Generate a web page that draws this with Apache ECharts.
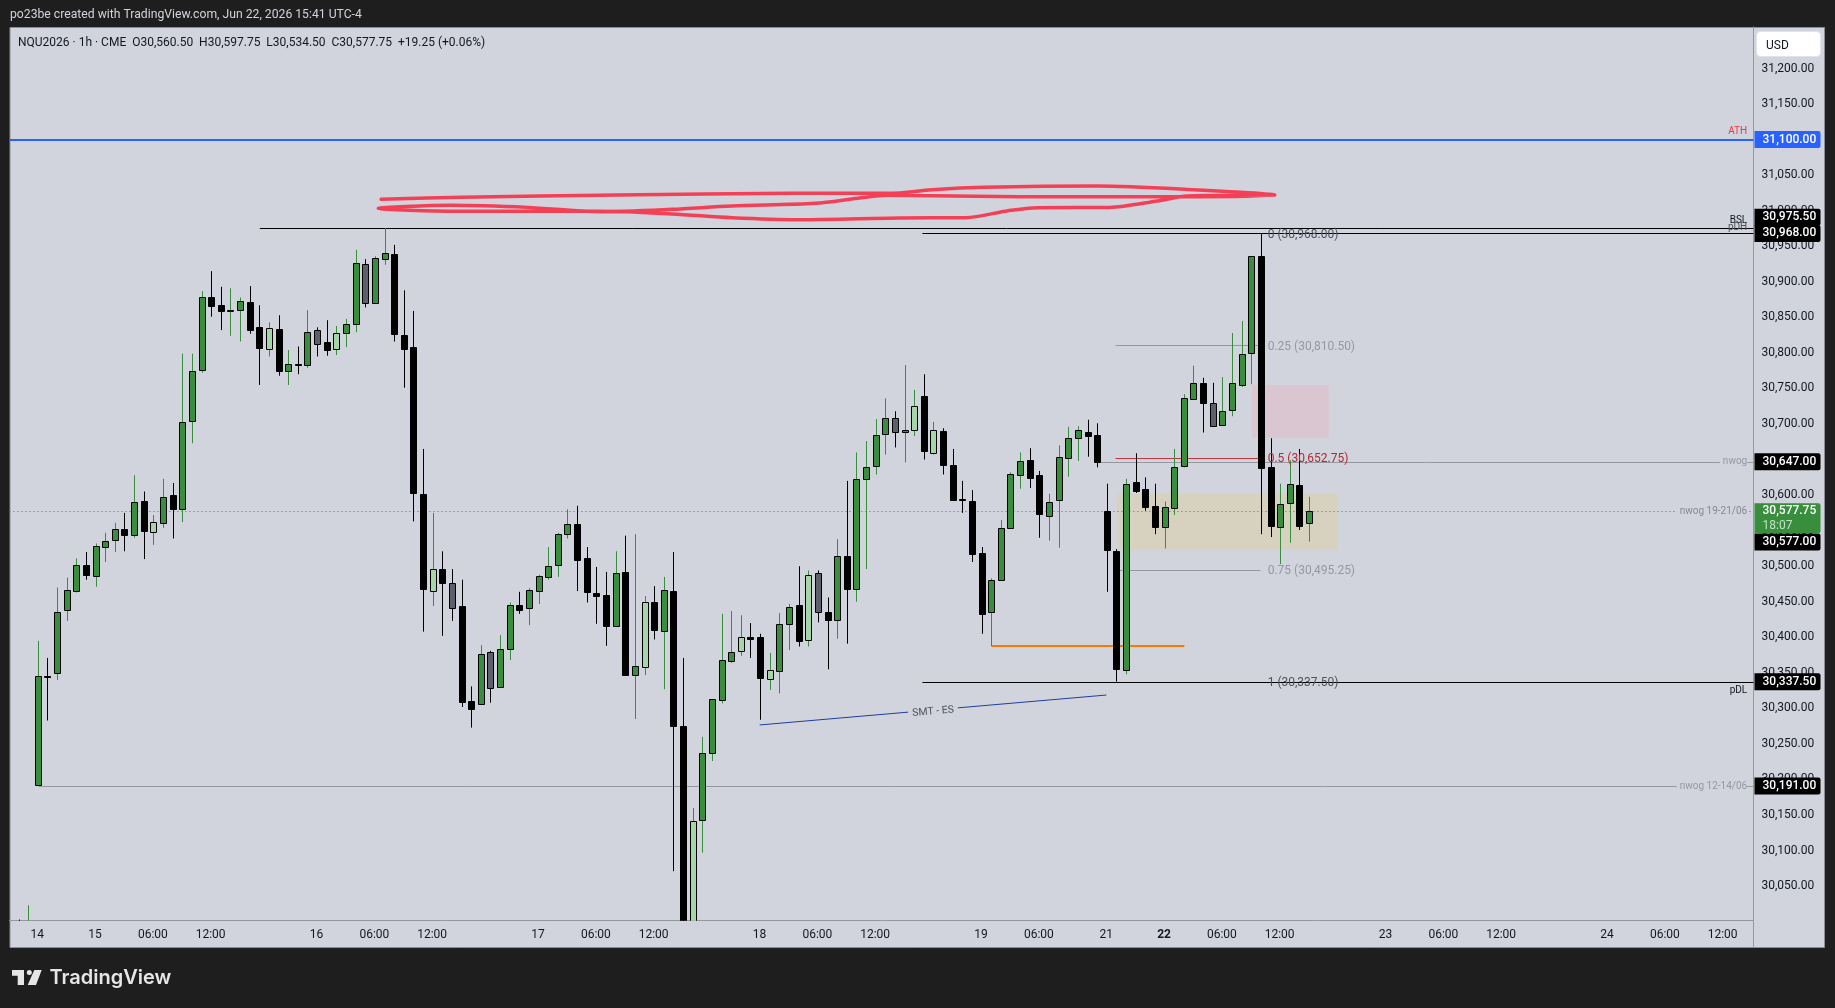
<!DOCTYPE html>
<html style="height: 100%">
<head>
<meta charset="utf-8">
<title>NQU2026 1h</title>
<style>
  body { height: 100%; margin: 0; background: #1e1e1e; }
  #container { width: 1835px; height: 1008px; }
</style>
</head>
<body>
<div id="container"></div>
<script src="https://cdn.jsdelivr.net/npm/echarts@6/dist/echarts.min.js"></script>
<script>
// hourly bars, first entry is bar -2 (the two bars that poke in from below at the far left)
var firstBar = -2;
var opens = [29985,29975,30191,30345.5,30349,30438,30465,30501,30487,30528,
  30536,30552,30545,30592,30548,30561,30600,30581,30703,30775,
  30878,30867,30858,30860,30871,30837,30806,30833,30774,30784,
  30784,30832,30815,30806,30828,30840,30925,30870,30932,30939,
  30825,30808,30601,30465,30496,30477,30444,30310,30306,30379,
  30330,30384,30446,30440,30465,30485,30501,30545,30560,30511,
  30462,30459,30416,30492,30346,30357,30449,30408,30465,30275,
  29985,30143,30237,30312,30368,30381,30401,30400,30341,30353,
  30419,30445,30397,30490,30435,30424,30514,30468,30623,30640,
  30685,30708,30689,30692,30739,30660,30690,30643,30594.25,30592,
  30519,30435,30481,30553,30629,30650,30628,30571,30592,30653,
  30680,30689,30684,30577,30521,30354,30619,30608,30584,30555,
  30583,30640,30736,30758,30730,30699,30719,30755,30800,30936,
  30639,30556,30588,30614,30560.5];
var highs = [30003,30023,30395,30371,30470,30484,30511,30520,30532,30547,
  30561,30575,30628,30605,30572,30623,30617,30799,30799,30887,
  30915,30893,30891,30878,30894,30867,30843,30853,30804,30809,
  30860,30836,30846,30838,30848,30945,30932,30936,30975.5,30952,
  30888,30859,30665,30575,30521,30496,30481,30331,30389,30381,
  30403,30449,30464,30469,30488,30527,30547,30580,30585,30527,
  30499,30492,30521,30543,30545,30458,30472,30485,30520,30371,
  30160,30260,30313,30433,30437,30431,30420,30405,30378,30434,
  30447,30500,30494,30494,30456,30538,30620,30660,30676,30707,
  30736,30718,30783,30748,30770,30703,30694,30665,30620,30607,
  30527,30483,30565,30632,30660,30666,30634,30602,30670,30696,
  30697,30706,30701,30616,30524,30623,30659,30625,30616,30591,
  30665,30742,30782,30765,30758,30766,30828,30845,30936,30968,
  30680,30616,30649,30665,30597.75];
var lows = [29960,29965,30191,30283,30340,30423,30463,30481,30471,30506,
  30520,30521,30540,30510,30530,30554,30539,30562,30673,30772,
  30851,30832,30824,30816,30827,30755,30795,30768,30755,30770,
  30779,30795,30796,30797,30808,30829,30864,30870,30924,30816,
  30751,30563,30408,30444,30402,30423,30302,30273,30306,30308,
  30330,30368,30433,30417,30447,30481,30485,30539,30465,30449,
  30419,30388,30416,30347,30285,30347,30397,30327,30071,29960,
  29975,30097,30226,30307,30364,30374,30371,30284,30326,30321,
  30382,30387,30387,30421,30355,30398,30391,30450,30496,30629,
  30657,30667,30646,30683,30650,30657,30629,30592,30575,30506,
  30405,30387.5,30479,30553,30609,30610,30540,30536,30526,30626,
  30648,30654,30639,30464,30337.5,30348,30603,30578,30545,30525,
  30572,30639,30734,30688,30698,30699,30711,30752,30756,30545,
  30541,30503,30533,30551,30534.5];
var closes = [29970,29990,30345,30345,30435,30466,30501,30487,30529,30536,
  30552,30544,30591,30550,30562,30598,30581,30703,30774,30878,
  30866,30858,30860,30873,30831,30807,30835,30774,30784,30782,
  30830,30813,30804,30828,30840,30926,30870,30933,30940,30826,
  30806,30602,30467,30496,30477,30442,30309,30299,30377,30328,
  30383,30446,30439,30466,30486,30500,30545,30559,30509,30463,
  30458,30415,30491,30347,30359,30449,30410,30466,30275,29985,
  30141,30237,30313,30368,30380,30400,30398,30342,30354,30419,
  30443,30395,30488,30435,30424,30514,30468,30623,30640,30684,
  30708,30689,30692,30726,30661,30692,30642,30594,30593.75,30518,
  30433,30480,30554,30629,30648,30624,30573,30591,30653,30681,
  30691,30684,30646,30522,30355,30616,30606,30582,30554,30583,
  30640,30736,30758,30730,30698,30719,30757,30799,30936,30638,
  30556,30588,30615,30556,30577.75];
// the bars painted pale green / slate by the chart's indicator
var paleBars = [12,24,31,41,63,68,73,76,80,91,93];
var slateBars = [29,34,43,47,81,89,122];

var timeBars = [0,6,12,18,29,35,41,52,58,64,75,81,87,98,104,111,117,123,129,140,146,152,163,169,175];
var timeLabels = ['14','15','06:00','12:00','16','06:00','12:00','17','06:00','12:00','18','06:00','12:00','19','06:00','21','22','06:00','12:00','23','06:00','12:00','24','06:00','12:00'];
var priceTicks = [30050,30100,30150,30200,30250,30300,30350,30400,30450,30500,30550,30600,30650,30700,30750,30800,30850,30900,30950,31000,31050,31100,31150,31200];

var lastPrice = 30577.75;
var ath = 31100;
var pdh = 30975.5;
var pdl = 30337.5;
var nwog = 30647;
var nwog1921 = 30577;
var nwog1214 = 30191;
var tagPrices = [31100,30975.5,30968,30647,30577,30337.5,30191];
var fibLevels = [30968,30810.5,30652.75,30495.25,30337.5];
var fibRatios = ['0','0.25','0.5','0.75','1'];
var orangeLow = 30387.5;
var smtLine = [[74.9,30276.7],[110.9,30318.8]];
var redZone = [126,134,30754.8,30680.7];
var tanZone = [112,134.9,30601.5,30522.8];
// freehand red scribble above the highs, as [bar, price]
var scribble = [[35.6,31016],[44,31019],[60.2,31022],[78.2,31024.4],[88.2,31024.4],[93.2,31030],[98.2,31032.9],[110,31034.7],[119.3,31030],[128.4,31022],
  [120.6,31019.7],[101.9,31019.7],[88.2,31021.6],[85.1,31017.4],[80.7,31010.4],[72,31006.6],[65.8,31001.9],[58.3,30998.6],[50.8,31004.7],[42.8,31007.6],[35.3,31003.3],
  [43.4,30999.1],[58.3,30999.1],[65.8,30995.4],[72,30990.2],[78.9,30987.4],[89.5,30989.8],[96.3,30990.2],[100.7,31000],[103.8,31004.3],[111.2,31004.7],[116.2,31013.7],[119.3,31020.7],[128.4,31022]];

var panel = '#d1d4dc';
var axisGrey = '#9598a1';
var ink = '#131722';
var uiFont = 'Roboto';
var xMin = -3, xMax = 178.1;

var dom = document.getElementById('container');
var myChart = echarts.init(dom);

function money(v) {
  return v.toLocaleString('en-US', { minimumFractionDigits: 2, maximumFractionDigits: 2 });
}

var barRows = opens.map(function (o, n) {
  return [n + firstBar, o, closes[n], lows[n], highs[n]];
});

function renderCandle(params, api) {
  var bar = api.value(0), o = api.value(1), c = api.value(2);
  var cx = Math.floor(api.coord([bar, o])[0]) + 0.5;
  var up = c >= o;
  var fill = up ? '#388e3c' : '#000000';
  if (paleBars.indexOf(bar) >= 0) fill = '#a5d6a7';
  if (slateBars.indexOf(bar) >= 0) fill = '#5d606b';
  var wick = up ? '#388e3c' : '#000000';
  var top = api.coord([bar, Math.max(o, c)])[1];
  var bottom = api.coord([bar, Math.min(o, c)])[1];
  var hi = api.coord([bar, api.value(4)])[1];
  var lo = api.coord([bar, api.value(3)])[1];
  return {
    type: 'group',
    children: [
      { type: 'line', shape: { x1: cx, y1: hi, x2: cx, y2: lo }, style: { stroke: wick, lineWidth: 1 } },
      { type: 'rect', shape: { x: cx - 3, y: Math.round(top) + 0.5, width: 6, height: Math.max(Math.round(bottom - top), 1) },
        style: { fill: fill, stroke: '#000000', lineWidth: 1 } }
    ]
  };
}

function renderZone(params, api) {
  var a = api.coord([api.value(0), api.value(2)]);
  var b = api.coord([api.value(1), api.value(3)]);
  return { type: 'rect', shape: { x: a[0], y: a[1], width: b[0] - a[0], height: b[1] - a[1] },
    style: { fill: params.dataIndex === 0 ? '#d9c6d1' : '#d7d2c0' } };
}

// horizontal level snapped to the pixel grid so it stays crisp, row is [fromBar, toBar, price]
function level(fromBar, toBar, price, color, width, dash, z) {
  return {
    type: 'custom', data: [[fromBar, toBar, price]], encode: { x: [0, 1], y: 2 },
    z: z || 2, silent: true, animation: false, clip: true,
    renderItem: function (params, api) {
      var a = api.coord([api.value(0), api.value(2)]);
      var b = api.coord([api.value(1), api.value(2)]);
      var y = width === 1 ? Math.round(a[1]) + 0.5 : Math.round(a[1]);
      return { type: 'line', shape: { x1: a[0], y1: y, x2: b[0], y2: y },
        style: { stroke: color, lineWidth: width, lineDash: dash || null } };
    }
  };
}

function note(bar, price, text, color, place, dy, extra) {
  var label = {
    show: true, position: place, distance: 0, offset: [0, dy], formatter: text, color: color,
    fontFamily: uiFont, fontSize: 12
  };
  for (var k in extra) label[k] = extra[k];
  return { value: [bar, price], label: label };
}

var noteRows = [
  note(177.5, ath, 'ATH', '#f23645', 'left', -8, { fontSize: 10 }),
  note(177.5, pdh, 'BSL', ink, 'left', -8, { fontSize: 10 }),
  note(177.5, pdh, 'pDH', '#50535e', 'left', -1, { fontSize: 10 }),
  note(177.5, pdl, 'pDL', ink, 'left', 9, { fontSize: 10 }),
  note(177.5, nwog, 'nwog', axisGrey, 'left', 0, { fontSize: 10, backgroundColor: panel, padding: [0, 0, 0, 3] }),
  note(177.5, nwog1921, 'nwog 19-21/06', '#858892', 'left', 0.5, { fontSize: 10, backgroundColor: panel, padding: [0, 0, 0, 3] }),
  note(177.5, nwog1214, 'nwog 12-14/06', axisGrey, 'left', 0.5, { fontSize: 10, backgroundColor: panel, padding: [0, 0, 0, 3] }),
  note(92.9, 30296.8, 'SMT - ES', '#50535e', 'inside', 1, { fontSize: 10.5, rotate: 5, backgroundColor: panel, padding: [0, 4] })
];
var fibColors = ['#50535e', axisGrey, '#b22833', axisGrey, '#50535e'];
fibLevels.forEach(function (lv, k) {
  noteRows.push(note(127.6, lv, fibRatios[k] + ' (' + money(lv) + ')', fibColors[k], 'right', 1.5, {}));
});

// right-hand price tags; offsets follow how the tags stack in the reference
var tagColors = ['#2962ff', '#000000', '#000000', '#000000', '#000000', '#000000', '#000000'];
var tagShift = [0, -10.8, 0, 0, 30.6, 0, 0];
var tagRows = tagPrices.map(function (p, k) {
  return {
    value: [xMax, p],
    label: {
      show: true, position: 'right', distance: 0.5, offset: [0, tagShift[k]], formatter: money(p),
      color: '#ffffff', fontFamily: uiFont, fontSize: 12, fontWeight: 500,
      backgroundColor: tagColors[k], width: 58, height: 17, lineHeight: 17, padding: [0, 0, 0, 8],
      borderRadius: [0, 2, 2, 0]
    }
  };
});
tagRows.push({
  value: [xMax, lastPrice],
  label: {
    show: true, position: 'right', distance: 0.5, offset: [0, 7.4],
    formatter: '{p|' + money(lastPrice) + '}\n{t|18:07}',
    fontFamily: uiFont, fontSize: 12, backgroundColor: '#388e3c', width: 58, height: 30, padding: [0, 0, 0, 8],
    borderRadius: [0, 2, 2, 0],
    rich: { p: { color: '#ffffff', fontFamily: uiFont, fontSize: 12, fontWeight: 500, lineHeight: 15 },
            t: { color: '#c3e0c5', fontFamily: uiFont, fontSize: 12, lineHeight: 15 } }
  }
});

var fibStart = 111.85, fibEnd = 126.9, outerStart = 91.8;
var option = {
  animation: false,
  backgroundColor: '#1e1e1e',
  textStyle: { fontFamily: uiFont },
  grid: { left: 9.41, right: 81.5, top: 27, bottom: 87.3, show: false },
  xAxis: {
    type: 'value', min: xMin, max: xMax, splitLine: { show: false },
    axisLine: { show: true, onZero: false, lineStyle: { color: axisGrey, width: 1 } },
    axisTick: { show: false },
    axisLabel: {
      customValues: timeBars, color: ink, fontFamily: uiFont, fontSize: 12, margin: 8, hideOverlap: false,
      padding: [0, 2, 0, 0],
      formatter: function (v) {
        var s = timeLabels[timeBars.indexOf(v)];
        return s === '22' ? '{b|22}' : s;
      },
      rich: { b: { fontFamily: uiFont, fontSize: 12, fontWeight: 'bold', color: ink } }
    }
  },
  yAxis: {
    type: 'value', position: 'right', min: 30001.4, max: 31258.4, scale: true, splitLine: { show: false },
    axisLine: { show: true, onZero: false, lineStyle: { color: axisGrey, width: 1 } },
    axisTick: { show: false },
    axisLabel: {
      customValues: priceTicks, color: ink, fontFamily: uiFont, fontSize: 12, margin: 8, hideOverlap: false,
      formatter: function (v) { return money(v); }
    }
  },
  series: [
    { type: 'custom', renderItem: renderZone, data: [redZone, tanZone], encode: { x: [0, 1], y: [2, 3] }, z: 1, silent: true, animation: false, clip: true },
    level(110, xMax, nwog, axisGrey, 1),
    level(0, xMax, nwog1214, axisGrey, 1),
    level(xMin, xMax, ath, '#2962ff', 2),
    level(23, xMax, pdh, '#000000', 1),
    level(outerStart, xMax, fibLevels[0], '#000000', 1),
    level(outerStart, xMax, fibLevels[4], '#000000', 1),
    level(fibStart, fibEnd, fibLevels[1], axisGrey, 1),
    level(fibStart, fibEnd, fibLevels[2], '#c2333b', 1),
    level(fibStart, fibEnd, fibLevels[3], axisGrey, 1),
    level(99, 119, orangeLow, '#f57c00', 2),
    { type: 'line', data: smtLine, showSymbol: false, silent: true, animation: false, z: 2, lineStyle: { color: '#1f3f9f', width: 1 } },
    level(xMin, xMax, lastPrice, '#388e3c', 1, [1, 3], 3),
    {
      type: 'custom', renderItem: renderCandle, data: barRows, encode: { x: 0, y: [1, 2, 3, 4] },
      z: 4, clip: true, silent: true, animation: false
    },
    { type: 'line', data: scribble, smooth: 0.3, showSymbol: false, silent: true, animation: false, z: 5,
      lineStyle: { color: '#f5384f', width: 3.5, cap: 'round', join: 'round', opacity: 0.95 } },
    { type: 'scatter', data: noteRows, symbolSize: 1, itemStyle: { color: 'rgba(0,0,0,0)', opacity: 1 }, z: 6, clip: false, silent: true, animation: false },
    { type: 'scatter', data: tagRows, symbolSize: 1, itemStyle: { color: 'rgba(0,0,0,0)', opacity: 1 }, z: 7, clip: false, silent: true, animation: false }
  ],
  graphic: [
    { type: 'rect', z: -1, shape: { x: 10, y: 27.5, width: 1814.5, height: 920 }, style: { fill: panel, stroke: '#8a8d95', lineWidth: 1 }, silent: true },
    { type: 'line', z: 1, shape: { x1: 1753.5, y1: 920, x2: 1753.5, y2: 947 }, style: { stroke: axisGrey, lineWidth: 1 }, silent: true },
    { type: 'text', z: 9, x: 10, y: 15, style: { text: 'po23be created with TradingView.com, Jun 22, 2026 15:41 UTC-4', fill: '#d1d4dc', font: '12.2px ' + uiFont, textVerticalAlign: 'middle' } },
    { type: 'text', z: 9, x: 18, y: 43, style: { text: 'NQU2026 · 1h · CME  O30,560.50  H30,597.75  L30,534.50  C30,577.75  +19.25 (+0.06%)', fill: ink, font: '12px ' + uiFont, textVerticalAlign: 'middle' } },
    { type: 'rect', z: 9, shape: { x: 1756.5, y: 31.5, width: 64, height: 25, r: 4 }, style: { fill: '#ffffff', stroke: '#e0e3eb', lineWidth: 1 }, silent: true },
    { type: 'text', z: 10, x: 1766, y: 45.5, style: { text: 'USD', fill: ink, font: '12px ' + uiFont, textVerticalAlign: 'middle' } },
    // TradingView mark under the chart
    { type: 'polygon', z: 9, shape: { points: [[12, 970], [24, 970], [24, 985], [17.7, 985], [17.7, 975.7], [12, 975.7]] }, style: { fill: '#e6e6e6' }, silent: true },
    { type: 'circle', z: 9, shape: { cx: 29.3, cy: 972.4, r: 2.5 }, style: { fill: '#e6e6e6' }, silent: true },
    { type: 'polygon', z: 9, shape: { points: [[34.3, 970], [41.7, 970], [36, 985], [27.7, 985]] }, style: { fill: '#e6e6e6' }, silent: true },
    { type: 'text', z: 9, x: 49.5, y: 978, style: { text: 'TradingView', fill: '#e6e6e6', font: '600 20px Inter', textVerticalAlign: 'middle' } }
  ]
};

if (option && typeof option === 'object') {
  myChart.setOption(option);
}
</script>
</body>
</html>
